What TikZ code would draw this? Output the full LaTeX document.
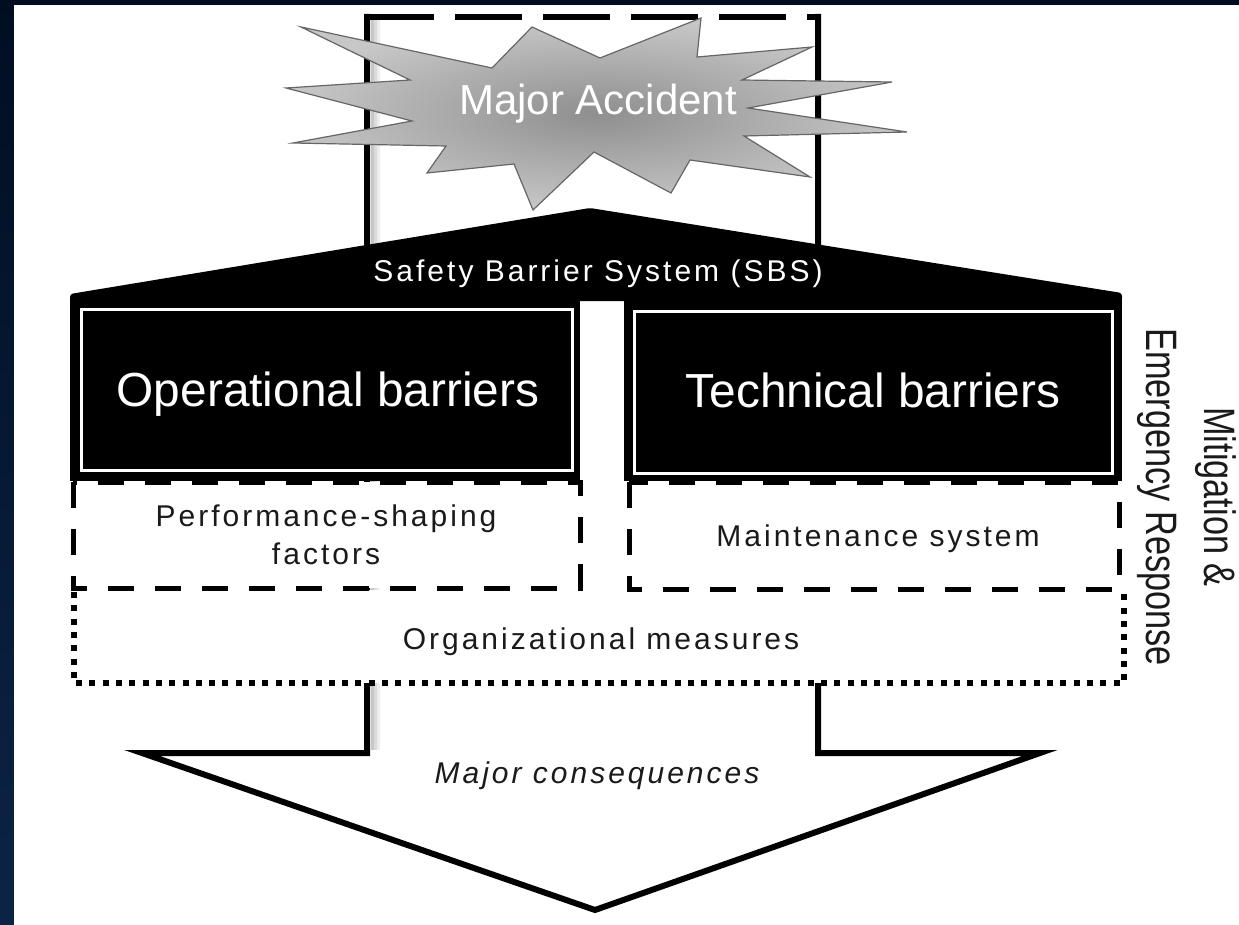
\documentclass[tikz,border=0pt]{standalone}
\usepackage{fontspec}
\setmainfont{Liberation Sans}
\newfontfamily\spacedfont[LetterSpace=10]{Liberation Sans}
\newfontfamily\narrowfont[FakeStretch=0.78]{Liberation Sans}
\definecolor{navytop}{HTML}{010E22}
\definecolor{navybottom}{HTML}{0B2446}
\definecolor{inktext}{HTML}{1A1A1A}
\begin{document}
\begin{tikzpicture}[x=1pt,y=-1pt,
  outline/.style={draw=black, line width=6pt, line join=miter, miter limit=12},
  innerframe/.style={draw=white, line width=3pt},
  dashbox/.style={draw=black, fill=white, line width=5pt, dash pattern=on 26pt off 21pt},
  dotline/.style={draw=black, line width=6pt, dash pattern=on 6pt off 7.3pt},
  bigtext/.style={text=white, inner sep=0pt, anchor=base, font=\fontsize{47.8}{56}\selectfont},
  smalltext/.style={text=inktext, inner sep=0pt, anchor=base, font=\spacedfont\fontsize{30}{36}\selectfont},
]
\useasboundingbox (0,0) rectangle (1239,925);

% page backdrop and white sheet
\shade[top color=navytop, bottom color=navybottom] (0,0) rectangle (1239,925);
\fill[white] (14,5) rectangle (1239,925);

% soft shadow along the left side of the arrow shaft
\foreach \d/\o in {5/0.22,8/0.14,11/0.07} {
  \draw[line width=3pt, black, opacity=\o] (367+\d,20) -- (367+\d,750);
}

% large downward arrow: solid sides, dashed top
\draw[outline] (367,14) -- (367,753) -- (142,753) -- (595,910) -- (1040,753) -- (818,753) -- (818,14);
\draw[outline, dash pattern=on 67pt off 21pt] (367,17) -- (818,17);

% explosion star
\path[draw=black!60, line width=1.2pt, inner color=black!44, outer color=black!22]
  (301,27) -- (492,68) -- (532,27) -- (600,58) -- (701,18) -- (697,57) -- (812,47)
  -- (742,80) -- (892,82) -- (748,108) -- (907,132) -- (744,136) -- (810,177)
  -- (690,160) -- (671,193) -- (594,152) -- (533,210) -- (514,164) -- (427,173)
  -- (446,146) -- (293,143) -- (412,121) -- (286,88) -- (410,80) -- cycle;
\node[bigtext, font=\fontsize{42}{50}\selectfont] (acc) at (598,115) {Major Accident};

% organizational measures (dotted, open at the top)
\fill[white] (74,590) rectangle (1124,683);
\draw[dotline] (74,592) -- (74,683) -- (1124,683) -- (1124,592);

% supporting factor boxes
\draw[dashbox] (73,482) rectangle (580,588);
\draw[dashbox] (629,482) rectangle (1119,589);

% barrier boxes and roof
\fill[black] (70,298) rectangle (580,481);
\fill[black] (624,298) rectangle (1122,481);
\fill[black, rounded corners=3pt] (70,301) -- (70,294) -- (590,208) -- (1122,293) -- (1122,301) -- cycle;
\draw[innerframe] (81,309) rectangle (572,470);
\draw[innerframe] (634,311) rectangle (1112,473);

% labels
\node[smalltext, text=white] (sbs) at (598,282) {Safety Barrier System (SBS)};
\node[bigtext] (opb) at (328,406) {Operational barriers};
\node[bigtext] (teb) at (873,407) {Technical barriers};
\node[smalltext] (psf) at (326,526) {Performance-shaping};
\node[smalltext] (psfb) at (326,564) {factors};
\node[smalltext] (mts) at (878,546) {Maintenance system};
\node[smalltext] (orm) at (601,649) {Organizational measures};
\node[smalltext, font=\spacedfont\itshape\fontsize{30}{36}\selectfont] (mcq) at (597,783) {Major consequences};
\node[rotate=-90, inner sep=0pt, align=center, text=inktext,
      font=\narrowfont\fontsize{44}{58}\selectfont] (mer) at (1187,497) {Mitigation \&\\Emergency Response};
\end{tikzpicture}
\end{document}
